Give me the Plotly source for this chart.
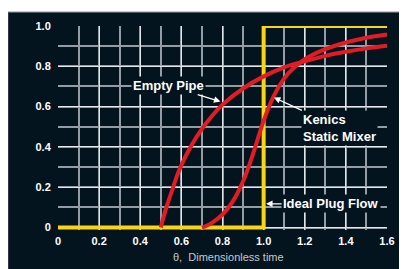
import plotly.graph_objects as go

# ---- data ----
empty_theta = [0.50, 0.51, 0.53, 0.55, 0.58, 0.60, 0.65, 0.70, 0.75, 0.80, 0.90, 1.00, 1.10, 1.20, 1.30, 1.40, 1.50, 1.60]
empty_F     = [0.00, 0.04, 0.11, 0.17, 0.26, 0.31, 0.41, 0.49, 0.555, 0.61, 0.69, 0.75, 0.795, 0.825, 0.852, 0.872, 0.889, 0.902]

kenics_theta = [0.70, 0.72, 0.75, 0.80, 0.85, 0.90, 0.95, 1.00, 1.05, 1.10, 1.15, 1.20, 1.30, 1.40, 1.50, 1.60]
kenics_F     = [0.00, 0.008, 0.025, 0.065, 0.13, 0.23, 0.37, 0.53, 0.655, 0.74, 0.795, 0.835, 0.885, 0.918, 0.942, 0.958]

plug_theta = [0.0, 1.0, 1.0, 1.6]
plug_F     = [0.0, 0.0, 1.0, 1.0]

x_ticks = [0, 0.2, 0.4, 0.6, 0.8, 1.0, 1.2, 1.4, 1.6]
x_ticktext = ["0", "0.2", "0.4", "0.6", "0.8", "1.0", "1.2", "1.4", "1.6"]
y_ticks = [0, 0.2, 0.4, 0.6, 0.8, 1.0]
y_ticktext = ["0", "0.2", "0.4", "0.6", "0.8", "1.0"]

# ---- styling ----
OFF = 8                      # page body margin
W, H = 407 - OFF, 269 - OFF  # figure size
BG = "#03141f"
RED = "#e31b23"
YELLOW = "#f8d616"
MAJOR = "#e3e7ea"
MINOR = "#949da3"
FONT = "Arial, Liberation Sans, Helvetica, sans-serif"

# plot-area positions in page pixels, converted to figure pixels
L, R, T = 58 - OFF, 387 - OFF, 24 - OFF
Y_RANGE = [-0.012, 1.0]
y0_px = 228 - OFF
bottom_px = y0_px + (0 - Y_RANGE[0]) * (y0_px - T)
B = H - bottom_px

def px_x(px):  # page px -> paper x
    return (px - OFF - L) / (R - L)

def px_y(py):  # page px -> paper y
    return (bottom_px - (py - OFF)) / (bottom_px - T)

fig = go.Figure()
fig.add_trace(go.Scatter(x=plug_theta, y=plug_F, mode="lines",
                         line=dict(color=YELLOW, width=4), hoverinfo="skip"))
fig.add_trace(go.Scatter(x=empty_theta, y=empty_F, mode="lines", line_shape="spline",
                         line=dict(color=RED, width=4), hoverinfo="skip"))
fig.add_trace(go.Scatter(x=kenics_theta, y=kenics_F, mode="lines", line_shape="spline",
                         line=dict(color=RED, width=4), hoverinfo="skip"))

# dark panel (starts a little below the figure top)
fig.add_shape(type="rect", xref="paper", yref="paper",
              x0=px_x(8), x1=px_x(420), y0=px_y(290), y1=px_y(10),
              fillcolor=BG, line=dict(color="#5a6064", width=1), layer="below")

ann_font = dict(family=FONT, size=13, color="white")
fig.add_annotation(x=0.79, y=0.625, ax=-52, ay=-16, text="<b>Empty Pipe</b>",
                   showarrow=True, arrowhead=2, arrowsize=1, arrowwidth=1.3, arrowcolor="white",
                   font=ann_font, bgcolor=BG, borderpad=1)
fig.add_annotation(x=1.05, y=0.645, ax=66, ay=30, text="<b>Kenics<br>Static Mixer</b>",
                   align="left", showarrow=True, arrowhead=2, arrowsize=1, arrowwidth=1.3,
                   arrowcolor="white", font=ann_font, bgcolor=BG, borderpad=1)
fig.add_annotation(x=1.012, y=0.118, ax=65, ay=0, text="<b>Ideal Plug Flow</b>",
                   showarrow=True, arrowhead=2, arrowsize=1, arrowwidth=1.3, arrowcolor="white",
                   font=ann_font, bgcolor=BG, borderpad=1)
fig.add_annotation(xref="paper", yref="paper", x=px_x(228), y=px_y(258),
                   xanchor="center", yanchor="middle",
                   text="θ,\u00a0 Dimensionless time", showarrow=False,
                   font=dict(family=FONT, size=11, color="#c4c9cc"))

fig.update_xaxes(range=[0, 1.6], tickvals=x_ticks, ticktext=[f"<b>{t}</b>" for t in x_ticktext],
                 showgrid=True, gridcolor=MAJOR, gridwidth=1, zeroline=False,
                 minor=dict(dtick=0.1, tick0=0, showgrid=True, gridcolor=MINOR, gridwidth=1.5),
                 ticks="outside", ticklen=1, tickcolor="rgba(0,0,0,0)",
                 tickfont=dict(family=FONT, size=11, color="white"),
                 showline=False, fixedrange=True)
fig.update_yaxes(range=Y_RANGE, tickvals=y_ticks, ticktext=[f"<b>{t}</b>" for t in y_ticktext],
                 showgrid=True, gridcolor=MAJOR, gridwidth=1, zeroline=False,
                 minor=dict(dtick=0.1, tick0=0, showgrid=True, gridcolor=MINOR, gridwidth=1.5),
                 ticks="outside", ticklen=4, tickcolor="rgba(0,0,0,0)",
                 tickfont=dict(family=FONT, size=11, color="white"),
                 showline=False, fixedrange=True)

fig.update_layout(width=W, height=H, autosize=False,
                  margin=dict(l=L, r=W - R, t=T, b=B, pad=0),
                  paper_bgcolor="white", plot_bgcolor=BG, showlegend=False)

fig.write_html("out.html", config={"displayModeBar": False})
